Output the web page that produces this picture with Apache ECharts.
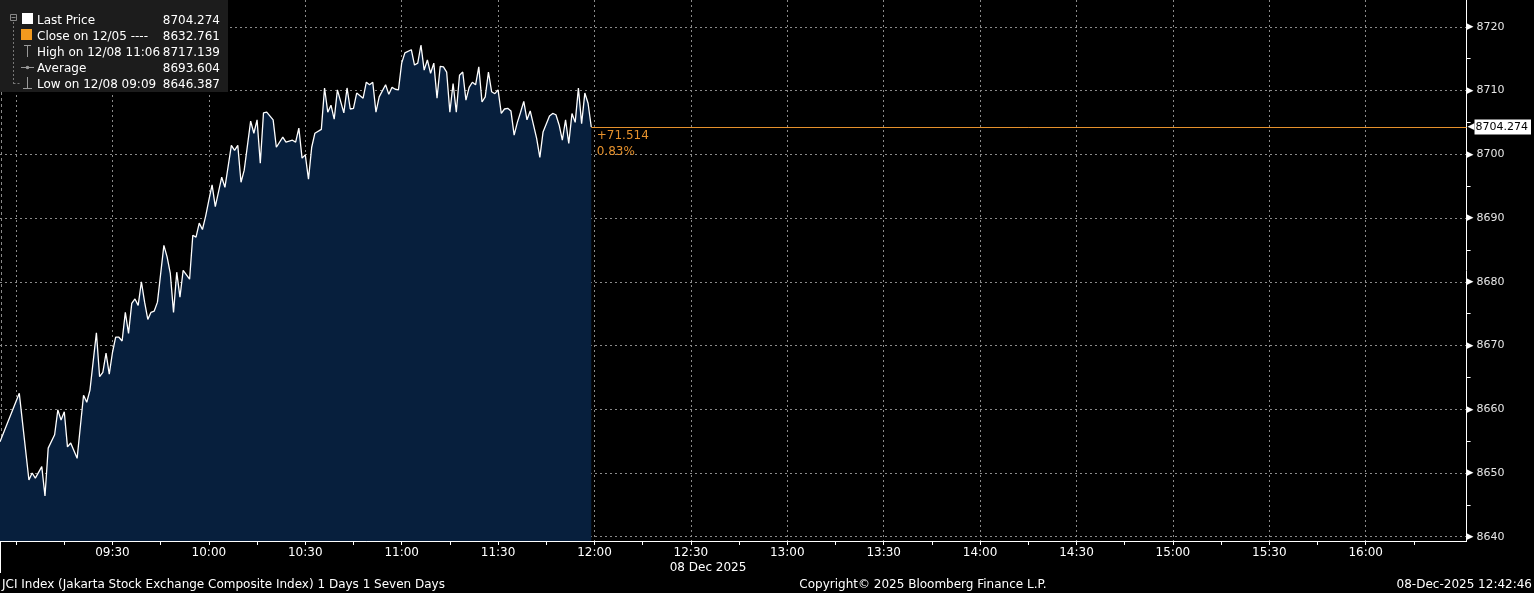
<!DOCTYPE html>
<html><head><meta charset="utf-8">
<script src="https://cdn.jsdelivr.net/npm/echarts@6/dist/echarts.min.js"></script>
<style>html,body{margin:0;padding:0;background:#000;overflow:hidden}#c{width:1534px;height:593px}</style>
</head><body><div id="c"></div>
<script>
// ---- data ----
const intraday = [
 ['08:55',8654.9],['09:01',8662.5],['09:04',8648.9],['09:05',8650.0],['09:06',8649.2],['09:08',8651.0],['09:09',8646.387],['09:10',8653.9],
 ['09:12',8656.0],['09:13',8659.9],['09:14',8658.3],['09:15',8659.6],['09:16',8654.1],['09:17',8654.7],['09:19',8652.3],['09:21',8662.2],
 ['09:22',8661.1],['09:23',8663.0],['09:25',8672.0],['09:26',8665.1],['09:27',8665.8],['09:28',8668.8],['09:29',8665.5],['09:30',8668.9],
 ['09:31',8671.3],['09:32',8671.3],['09:33',8670.7],['09:34',8675.2],['09:35',8671.9],['09:36',8676.6],['09:37',8677.3],['09:38',8676.3],
 ['09:39',8680.0],['09:40',8676.8],['09:41',8674.1],['09:42',8675.2],['09:43',8675.4],['09:44',8676.8],['09:46',8685.7],['09:47',8683.9],
 ['09:48',8681.3],['09:49',8675.2],['09:50',8681.5],['09:51',8677.6],['09:52',8681.8],['09:54',8680.4],['09:55',8687.3],['09:56',8687.0],
 ['09:57',8689.2],['09:58',8688.2],['09:59',8690.3],['10:00',8692.8],['10:01',8695.2],['10:02',8691.8],['10:04',8696.4],['10:05',8694.8],
 ['10:07',8701.4],['10:08',8700.6],['10:09',8701.4],['10:10',8695.6],['10:11',8697.5],['10:13',8705.2],['10:14',8703.3],['10:15',8705.4],
 ['10:16',8698.6],['10:17',8706.5],['10:18',8706.6],['10:20',8705.4],['10:21',8701.1],['10:23',8702.7],['10:24',8701.9],['10:26',8702.2],
 ['10:27',8701.9],['10:28',8704.1],['10:29',8699.4],['10:30',8699.9],['10:31',8696.1],['10:32',8701.1],['10:33',8703.3],['10:35',8703.9],
 ['10:36',8710.4],['10:37',8706.6],['10:38',8707.7],['10:39',8705.5],['10:40',8710.1],['10:42',8706.5],['10:43',8710.4],['10:44',8707.1],
 ['10:45',8707.2],['10:46',8709.6],['10:48',8708.8],['10:49',8711.3],['10:50',8710.9],['10:51',8711.3],['10:52',8706.6],['10:53',8709.0],
 ['10:55',8710.9],['10:56',8709.4],['10:57',8710.5],['10:58',8710.2],['10:59',8710.1],['11:00',8714.3],['11:01',8715.9],['11:03',8716.4],
 ['11:04',8714.0],['11:05',8714.3],['11:06',8717.139],['11:07',8713.2],['11:08',8714.8],['11:09',8712.7],['11:10',8714.3],['11:11',8708.8],
 ['11:12',8713.8],['11:13',8713.7],['11:14',8712.9],['11:15',8706.6],['11:16',8711.1],['11:17',8706.6],['11:18',8712.4],['11:19',8712.9],
 ['11:20',8708.5],['11:21',8710.5],['11:22',8711.3],['11:23',8710.9],['11:24',8713.7],['11:25',8708.2],['11:26',8709.0],['11:27',8712.9],
 ['11:28',8709.8],['11:29',8709.5],['11:30',8710.1],['11:31',8706.4],['11:32',8707.1],['11:33',8707.2],['11:34',8706.8],['11:35',8703.0],
 ['11:36',8705.0],['11:37',8706.6],['11:38',8708.3],['11:39',8705.4],['11:40',8706.8],['11:42',8702.5],['11:43',8699.5],['11:44',8703.5],
 ['11:46',8706.0],['11:47',8706.4],['11:48',8706.2],['11:49',8704.6],['11:50',8702.2],['11:51',8705.4],['11:52',8701.7],['11:53',8706.4],
 ['11:54',8705.0],['11:55',8710.4],['11:56',8704.8],['11:57',8709.6],['11:58',8708.0],['11:59',8704.274]
];
const yTickValues = [8640, 8650, 8660, 8670, 8680, 8690, 8700, 8710, 8720];
const yMinorValues = [8645, 8655, 8665, 8675, 8685, 8695, 8705, 8715];
const xLabelTimes = ['09:30','10:00','10:30','11:00','11:30','12:00','12:30','13:00','13:30','14:00','14:30','15:00','15:30','16:00'];
const xGridTimes = ['09:00','09:30','10:00','10:30','11:00','11:30','12:00','12:30','13:00','13:30','14:00','14:30','15:00','15:30','16:00'];
const xTickTimes = ['09:00','09:15','09:30','09:45','10:00','10:15','10:30','10:45','11:00','11:15','11:30','11:45','12:00','12:15','12:30','12:45',
 '13:00','13:15','13:30','13:45','14:00','14:15','14:30','14:45','15:00','15:15','15:30','15:45','16:00','16:15'];
const legendLabels = ['Last Price', 'Close on 12/05 ----', 'High on 12/08 11:06', 'Average', 'Low on 12/08 09:09'];
const legendValues = [8704.274, 8632.761, 8717.139, 8693.604, 8646.387];
const lastPrice = 8704.274;
const netChange = 71.514;
const pctChange = 0.83;
const dateLabel = '08 Dec 2025';
const footerLeft = 'JCI Index (Jakarta Stock Exchange Composite Index) 1 Days 1 Seven Days';
const footerCenter = 'Copyright\u00a9 2025 Bloomberg Finance L.P.';
const footerRight = '08-Dec-2025 12:42:46';

// ---- helpers ----
const toMin = s => { const [h, m] = s.split(':').map(Number); return h * 60 + m; };
const fmt = v => { const h = Math.floor(v / 60), m = Math.round(v % 60); return String(h).padStart(2, '0') + ':' + String(m).padStart(2, '0'); };
const X_MIN = 535, X_MAX = 991.4, Y_MIN = 8639.33, Y_MAX = 8724.2;
const ORANGE = '#e6912c';
const FONT = 'DejaVu Sans';
const seriesData = intraday.map(d => [toMin(d[0]), d[1]]);
const last = seriesData[seriesData.length - 1];

const chart = echarts.init(document.getElementById('c'), null, {renderer: 'canvas'});

// legend graphic
const rowY = [20.5, 36.5, 52.5, 68.5, 84.5];
const legendGfx = [
  {type: 'rect', shape: {x: 0, y: 0, width: 228, height: 92}, style: {fill: '#1c1c1c'}, z: 100},
  // tree bracket
  {type: 'rect', shape: {x: 10.5, y: 14.5, width: 6, height: 6}, style: {fill: 'none', stroke: '#888', lineWidth: 1}, z: 101},
  {type: 'line', shape: {x1: 11.5, y1: 17.5, x2: 15.5, y2: 17.5}, style: {stroke: '#888', lineWidth: 1}, z: 101},
  {type: 'line', shape: {x1: 13.5, y1: 22, x2: 13.5, y2: 84}, style: {stroke: '#777', lineWidth: 1, lineDash: [2, 2]}, z: 101},
  {type: 'line', shape: {x1: 13.5, y1: 83.5, x2: 20, y2: 83.5}, style: {stroke: '#777', lineWidth: 1, lineDash: [2, 2]}, z: 101},
  // icons
  {type: 'rect', shape: {x: 22, y: 13, width: 11, height: 11}, style: {fill: '#ffffff'}, z: 101},
  {type: 'rect', shape: {x: 21, y: 29, width: 11, height: 11}, style: {fill: '#f39a1e'}, z: 101},
  {type: 'line', shape: {x1: 27.5, y1: 45, x2: 27.5, y2: 57}, style: {stroke: '#999', lineWidth: 1}, z: 101},
  {type: 'line', shape: {x1: 24, y1: 45.5, x2: 31, y2: 45.5}, style: {stroke: '#999', lineWidth: 1}, z: 101},
  {type: 'line', shape: {x1: 21, y1: 67.5, x2: 34, y2: 67.5}, style: {stroke: '#999', lineWidth: 1}, z: 101},
  {type: 'circle', shape: {cx: 27.5, cy: 67.5, r: 1.8}, style: {fill: '#999'}, z: 101},
  {type: 'line', shape: {x1: 27.5, y1: 77, x2: 27.5, y2: 88}, style: {stroke: '#999', lineWidth: 1}, z: 101},
  {type: 'line', shape: {x1: 23, y1: 88.5, x2: 32, y2: 88.5}, style: {stroke: '#999', lineWidth: 1}, z: 101}
];
legendLabels.forEach((t, i) => {
  legendGfx.push({type: 'text', x: 37, y: rowY[i], z: 102,
    style: {text: t, fill: '#ffffff', font: '12px "' + FONT + '"', textVerticalAlign: 'middle', verticalAlign: 'middle'}});
  legendGfx.push({type: 'text', x: 220, y: rowY[i], z: 102,
    style: {text: legendValues[i].toFixed(3), fill: '#ffffff', font: '12px "' + FONT + '"', align: 'right', textAlign: 'right', verticalAlign: 'middle', textVerticalAlign: 'middle'}});
});

const footerGfx = [
  {type: 'text', x: 708, y: 568, style: {text: dateLabel, fill: '#ffffff', font: '12px "' + FONT + '"', align: 'center', textAlign: 'center', verticalAlign: 'middle', textVerticalAlign: 'middle'}},
  {type: 'text', x: 2, y: 585, style: {text: footerLeft, fill: '#ffffff', font: '12px "' + FONT + '"', verticalAlign: 'middle', textVerticalAlign: 'middle'}},
  {type: 'text', x: 923, y: 585, style: {text: footerCenter, fill: '#ffffff', font: '12px "' + FONT + '"', align: 'center', textAlign: 'center', verticalAlign: 'middle', textVerticalAlign: 'middle'}},
  {type: 'text', x: 1532, y: 585, style: {text: footerRight, fill: '#ffffff', font: '12px "' + FONT + '"', align: 'right', textAlign: 'right', verticalAlign: 'middle', textVerticalAlign: 'middle'}},
  {type: 'line', shape: {x1: 1.5, y1: 92, x2: 1.5, y2: 541}, style: {stroke: '#888', lineWidth: 1, lineDash: [3, 3]}},
  {type: 'line', shape: {x1: 0.5, y1: 541, x2: 0.5, y2: 573}, style: {stroke: '#fff', lineWidth: 1}}
];

const option = {
  backgroundColor: '#000000',
  animation: false,
  textStyle: {fontFamily: FONT},
  grid: {left: 0, right: 64, top: 0, bottom: 52, containLabel: false},
  xAxis: [
    {type: 'value', min: X_MIN, max: X_MAX, position: 'bottom',
     axisLine: {show: true, lineStyle: {color: '#ffffff', width: 1}},
     axisTick: {show: false, customValues: xGridTimes.map(toMin)},
     axisLabel: {show: true, customValues: xLabelTimes.map(toMin), formatter: fmt, color: '#ffffff', fontSize: 12, fontFamily: FONT, margin: 6},
     splitLine: {show: true, lineStyle: {color: '#8a8a8a', width: 1, type: [2, 3]}}},
    {type: 'value', min: X_MIN, max: X_MAX, position: 'bottom',
     axisLine: {show: true, lineStyle: {color: '#ffffff', width: 1}},
     axisTick: {show: true, customValues: xTickTimes.map(toMin), length: 4, inside: false, lineStyle: {color: '#ffffff'}},
     axisLabel: {show: false}, splitLine: {show: false}}
  ],
  yAxis: [
    {type: 'value', min: Y_MIN, max: Y_MAX, position: 'right',
     axisLine: {show: true, lineStyle: {color: '#ffffff', width: 1}},
     axisTick: {show: false, customValues: yTickValues},
     axisLabel: {show: true, customValues: yTickValues, margin: 0,
       formatter: v => '{t|\u25B6}{v|' + v + '}',
       rich: {t: {color: '#ffffff', fontSize: 9, fontFamily: FONT, width: 8, align: 'left'},
              v: {color: '#e6e6e6', fontSize: 11, fontFamily: FONT, padding: [0, 0, 0, 2]}}},
     splitLine: {show: true, lineStyle: {color: '#8a8a8a', width: 1, type: [2, 3]}}},
    {type: 'value', min: Y_MIN, max: Y_MAX, position: 'right',
     axisLine: {show: false},
     axisTick: {show: true, customValues: yMinorValues, length: 4, lineStyle: {color: '#ffffff'}},
     axisLabel: {show: false}, splitLine: {show: false}},
    {type: 'value', min: Y_MIN, max: Y_MAX, position: 'right',
     axisLine: {show: false}, axisTick: {show: false, customValues: [lastPrice]}, splitLine: {show: false},
     axisLabel: {show: true, customValues: [lastPrice], margin: 1,
       formatter: v => '{a|\u25C0}{b|' + v.toFixed(3) + '}',
       rich: {a: {color: '#ffffff', fontSize: 9, fontFamily: FONT},
              b: {color: '#000000', backgroundColor: '#ffffff', fontSize: 11, fontFamily: FONT, padding: [2, 3, 2, 1], lineHeight: 12}}}}
  ],
  series: [{
    type: 'line', xAxisIndex: 0, yAxisIndex: 0, data: seriesData,
    showSymbol: false, symbol: 'none',
    lineStyle: {color: '#ffffff', width: 1.3},
    areaStyle: {color: '#071f3d', origin: 'start', opacity: 1},
    z: 3,
    markLine: {silent: true, symbol: 'none', animation: false,
      lineStyle: {color: ORANGE, width: 1, type: 'solid'}, label: {show: false},
      data: [[{coord: [last[0], lastPrice]}, {coord: [X_MAX, lastPrice]}]]},
    markPoint: {silent: true, symbol: 'rect', symbolSize: 1, itemStyle: {color: 'rgba(0,0,0,0)'},
      data: [{coord: [last[0], lastPrice]}],
      label: {show: true, position: [6, 1], color: ORANGE, fontSize: 12, fontFamily: FONT, lineHeight: 16, align: 'left', verticalAlign: 'top',
        formatter: () => '+' + netChange.toFixed(3) + '\n' + pctChange.toFixed(2) + '%'}}
  }],
  graphic: legendGfx.concat(footerGfx)
};
chart.setOption(option);
</script>
</body></html>
